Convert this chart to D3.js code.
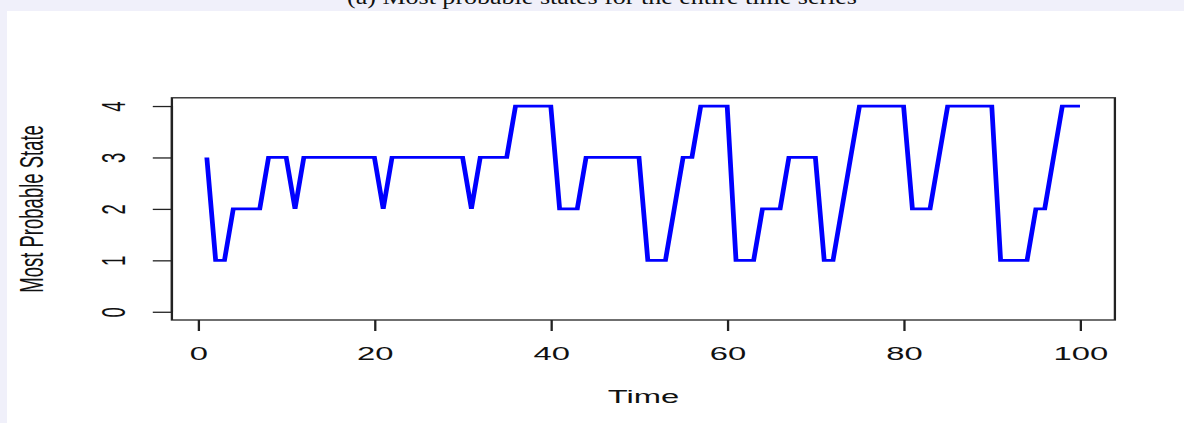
<!DOCTYPE html>
<html>
<head>
<meta charset="utf-8">
<script src="https://cdn.jsdelivr.net/npm/d3@7"></script>
<style>
  html, body { margin: 0; padding: 0; background: #f0f0fa; }
  svg { display: block; }
</style>
</head>
<body>
<svg id="chart" width="1184" height="423"></svg>
<script>
// ---- data ----
const titleText = "(a) Most probable states for the entire time series";
const xLabel = "Time";
const yLabel = "Most Probable State";
const xTicks = [0, 20, 40, 60, 80, 100];
const yTicks = [0, 1, 2, 3, 4];
const times = d3.range(1, 101);
const states = [
  3, 1, 1, 2, 2, 2, 2, 3, 3, 3,   // 1-10
  2, 3, 3, 3, 3, 3, 3, 3, 3, 3,   // 11-20
  2, 3, 3, 3, 3, 3, 3, 3, 3, 3,   // 21-30
  2, 3, 3, 3, 3, 4, 4, 4, 4, 4,   // 31-40
  2, 2, 2, 3, 3, 3, 3, 3, 3, 3,   // 41-50
  1, 1, 1, 2, 3, 3, 4, 4, 4, 4,   // 51-60
  1, 1, 1, 2, 2, 2, 3, 3, 3, 3,   // 61-70
  1, 1, 2, 3, 4, 4, 4, 4, 4, 4,   // 71-80
  2, 2, 2, 3, 4, 4, 4, 4, 4, 4,   // 81-90
  1, 1, 1, 1, 2, 2, 3, 4, 4, 4    // 91-100
];

// ---- layout ----
const S = 1.77;                 // horizontal stretch of the original figure
const boxL = 171.9 / S, boxR = 1114.9 / S;
const boxT = 97.8, boxB = 320;
const font = "'Liberation Sans', Arial, sans-serif";
const fs = 18.5;

const svg = d3.select("#chart");
// page background and white panel
svg.append("rect").attr("x", 0).attr("y", 0).attr("width", 1184).attr("height", 423).attr("fill", "#f0f0fa");
svg.append("rect").attr("x", 7).attr("y", 11).attr("width", 1177).attr("height", 412).attr("fill", "#ffffff");

// title (cut off at top)
svg.append("text")
  .attr("x", 602).attr("y", 4)
  .attr("text-anchor", "middle")
  .attr("font-family", "'Liberation Serif', 'Times New Roman', serif")
  .attr("font-size", 20)
  .attr("textLength", 510)
  .attr("lengthAdjust", "spacingAndGlyphs")
  .attr("fill", "#111")
  .text(titleText);

const g = svg.append("g").attr("transform", `scale(${S},1)`);

const xExt = (100 - 1) * 0.04;
const x = d3.scaleLinear().domain([1 - xExt, 100 + xExt]).range([boxL, boxR]);
const yExt = 4 * 0.04;
const y = d3.scaleLinear().domain([0 - yExt, 4 + yExt]).range([boxB, boxT]);

// box
g.append("rect")
  .attr("x", boxL).attr("y", boxT)
  .attr("width", boxR - boxL).attr("height", boxB - boxT)
  .attr("fill", "none").attr("stroke", "#222").attr("stroke-width", 1.3);

// x axis
const xAxis = d3.axisBottom(x).tickValues(xTicks).tickSize(11).tickPadding(0).tickFormat(d3.format("d"));
const gx = g.append("g").attr("transform", `translate(0,${boxB})`).call(xAxis);
gx.select(".domain").remove();
gx.selectAll(".tick line").attr("stroke", "#222").attr("stroke-width", 1.3);
gx.selectAll(".tick text")
  .attr("font-family", font).attr("font-size", fs).attr("fill", "#111")
  .attr("dy", null).attr("y", 40);

// y axis
const yAxis = d3.axisLeft(y).tickValues(yTicks).tickSize(10.8).tickFormat(d3.format("d"));
const gy = g.append("g").attr("transform", `translate(${boxL},0)`).call(yAxis);
gy.select(".domain").attr("d", `M0,${y(0)}V${y(4)}`).attr("stroke", "#222").attr("stroke-width", 1.3);
gy.selectAll(".tick line").attr("stroke", "#222").attr("stroke-width", 1.3);
gy.selectAll(".tick text")
  .attr("font-family", font).attr("font-size", fs).attr("fill", "#111")
  .attr("x", null).attr("dy", null)
  .attr("text-anchor", "middle")
  .attr("transform", `translate(${70.6 - boxL},0) rotate(-90)`);

// axis titles
g.append("text")
  .attr("x", (boxL + boxR) / 2).attr("y", 403)
  .attr("text-anchor", "middle")
  .attr("font-family", font).attr("font-size", fs).attr("fill", "#111")
  .text(xLabel);
g.append("text")
  .attr("transform", `translate(24.5,${(boxT + boxB) / 2}) rotate(-90)`)
  .attr("text-anchor", "middle")
  .attr("font-family", font).attr("font-size", fs).attr("fill", "#111")
  .text(yLabel);

// series line
const line = d3.line().x((d, i) => x(times[i])).y(d => y(d));
g.append("path")
  .datum(states)
  .attr("d", line)
  .attr("fill", "none")
  .attr("stroke", "#0000ff")
  .attr("stroke-width", 2.7)
  .attr("stroke-linejoin", "miter")
  .attr("stroke-miterlimit", 2);
</script>
</body>
</html>
